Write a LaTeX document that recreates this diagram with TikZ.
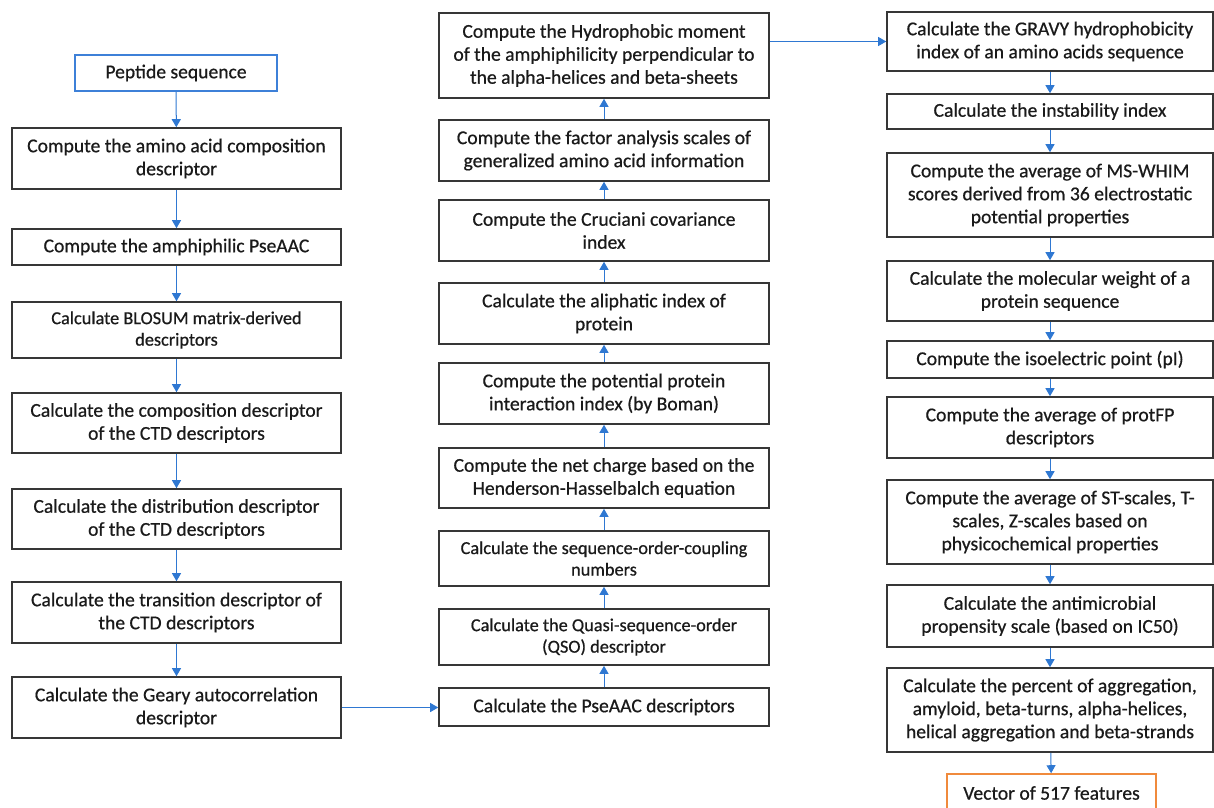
\documentclass[tikz,border=0pt]{standalone}
\usepackage{fontspec}
\setmainfont{Carlito}[FakeBold=0.6]
\usetikzlibrary{arrows.meta}
\definecolor{boxline}{HTML}{363636}
\definecolor{txt}{HTML}{1A1A1A}
\definecolor{flowblue}{HTML}{2F78D2}
\definecolor{startblue}{HTML}{3D80D8}
\definecolor{endorange}{HTML}{F08A3C}
\tikzset{
  stepbox/.style={draw=boxline, line width=1.6pt, fill=white, text=txt, align=center,
    inner sep=2pt, font=\fontsize{19.6}{23}\selectfont},
  smallbox/.style={stepbox, font=\fontsize{18.3}{21.5}\selectfont},
  flow/.style={draw=flowblue, line width=1pt, -{Triangle[width=9pt,length=8pt]}},
}
\begin{document}
\begin{tikzpicture}[x=1pt,y=-1pt]
\useasboundingbox (0,0) rectangle (1214,807);
\fill[white] (0,0) rectangle (1214,807);
% left column
\node[stepbox, draw=startblue, minimum width=202pt, minimum height=36pt] (P) at (176,73) {Peptide sequence};
\node[stepbox, minimum width=329pt, minimum height=61pt] (L1) at (176.5,158.5) {Compute the amino acid composition\\descriptor};
\node[stepbox, minimum width=329pt, minimum height=36pt] (L2) at (176.5,247) {Compute the amphiphilic PseAAC};
\node[smallbox, minimum width=329pt, minimum height=56pt] (L3) at (176.5,330) {Calculate BLOSUM matrix-derived\\descriptors};
\node[stepbox, minimum width=329pt, minimum height=60pt] (L4) at (176.5,423) {Calculate the composition descriptor\\of the CTD descriptors};
\node[stepbox, minimum width=329pt, minimum height=60pt] (L5) at (176.5,519) {Calculate the distribution descriptor\\of the CTD descriptors};
\node[stepbox, minimum width=329pt, minimum height=61pt] (L6) at (176.5,612.5) {Calculate the transition descriptor of\\the CTD descriptors};
\node[stepbox, minimum width=329pt, minimum height=61pt] (L7) at (176.5,707.5) {Calculate the Geary autocorrelation\\descriptor};
% middle column
\node[stepbox, minimum width=330pt, minimum height=85pt] (M1) at (604,55.5) {Compute the Hydrophobic moment\\of the amphiphilicity perpendicular to\\the alpha-helices and beta-sheets};
\node[stepbox, minimum width=330pt, minimum height=61pt] (M2) at (604,150.5) {Compute the factor analysis scales of\\generalized amino acid information};
\node[stepbox, minimum width=330pt, minimum height=61pt] (M3) at (604,230.5) {Compute the Cruciani covariance\\index};
\node[stepbox, minimum width=330pt, minimum height=61pt] (M4) at (604,313.5) {Calculate the aliphatic index of\\protein};
\node[stepbox, minimum width=330pt, minimum height=61pt] (M5) at (604,393.5) {Compute the potential protein\\interaction index (by Boman)};
\node[stepbox, minimum width=330pt, minimum height=60pt] (M6) at (604,478) {Compute the net charge based on the\\Henderson-Hasselbalch equation};
\node[smallbox, minimum width=330pt, minimum height=55pt] (M7) at (604,558.5) {Calculate the sequence-order-coupling\\numbers};
\node[smallbox, minimum width=330pt, minimum height=56pt] (M8) at (604,637) {Calculate the Quasi-sequence-order\\(QSO) descriptor};
\node[stepbox, minimum width=330pt, minimum height=38pt] (M9) at (604,707) {Calculate the PseAAC descriptors};
% right column
\node[stepbox, minimum width=326pt, minimum height=59pt] (R1) at (1050,41.5) {Calculate the GRAVY hydrophobicity\\index of an amino acids sequence};
\node[stepbox, minimum width=326pt, minimum height=35pt] (R2) at (1050,111.5) {Calculate the instability index};
\node[stepbox, minimum width=326pt, minimum height=84pt] (R3) at (1050,195) {Compute the average of MS-WHIM\\scores derived from 36 electrostatic\\potential properties};
\node[stepbox, minimum width=326pt, minimum height=60pt] (R4) at (1050,291) {Calculate the molecular weight of a\\protein sequence};
\node[stepbox, minimum width=326pt, minimum height=37pt] (R5) at (1050,359.5) {Compute the isoelectric point (pI)};
\node[stepbox, minimum width=326pt, minimum height=61pt] (R6) at (1050,427.5) {Compute the average of protFP\\descriptors};
\node[stepbox, minimum width=326pt, minimum height=84pt] (R7) at (1050,522) {Compute the average of ST-scales, T-\\scales, Z-scales based on\\physicochemical properties};
\node[stepbox, minimum width=326pt, minimum height=62pt] (R8) at (1050,616) {Calculate the antimicrobial\\propensity scale (based on IC50)};
\node[stepbox, minimum width=326pt, minimum height=84pt] (R9) at (1050,710) {Calculate the percent of aggregation,\\amyloid, beta-turns, alpha-helices,\\helical aggregation and beta-strands};
\node[stepbox, draw=endorange, minimum width=209pt, minimum height=38pt] (R10) at (1051.5,793) {Vector of 517 features};
% connectors
\foreach \a/\b in {P/L1, L1/L2, L2/L3, L3/L4, L4/L5, L5/L6, L6/L7,
                   M9/M8, M8/M7, M7/M6, M6/M5, M5/M4, M4/M3, M3/M2, M2/M1,
                   R1/R2, R2/R3, R3/R4, R4/R5, R5/R6, R6/R7, R7/R8, R8/R9, R9/R10}
  \draw[flow] (\a) -- (\b);
\draw[flow] (L7.east) -- (L7.east -| M9.west);
\draw[flow] (M1.east |- R1.west) -- (R1.west);
\end{tikzpicture}
\end{document}
